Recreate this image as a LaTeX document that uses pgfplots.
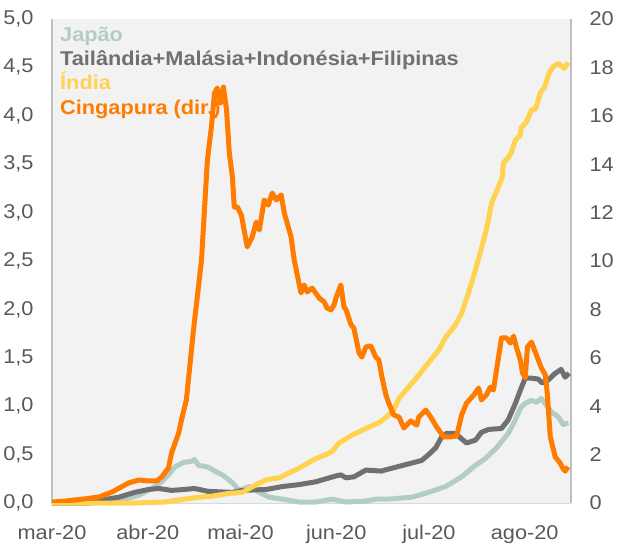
\documentclass[border=0pt]{standalone}
\usepackage{fontspec}
\setmainfont{Liberation Sans}[FakeStretch=1.09]
\usepackage{pgfplots}
\pgfplotsset{compat=1.18}
\definecolor{jap}{HTML}{B4CCC6}
\definecolor{tai}{HTML}{707070}
\definecolor{ind}{HTML}{FFD24F}
\definecolor{cin}{HTML}{FF7C00}
\definecolor{bg}{HTML}{F2F2F2}
\definecolor{axl}{HTML}{BFBFBF}
\definecolor{tk}{HTML}{595959}
\begin{document}
\begin{tikzpicture}[font=\fontsize{20}{23}\selectfont]
\path[use as bounding box] (-52bp,-41bp) rectangle (566bp,503bp);
\begin{axis}[
  at={(0,0)}, anchor=south west,
  scale only axis, width=519bp, height=484bp,
  xmin=0, xmax=168, ymin=0, ymax=5,
  axis background/.style={fill=bg},
  axis line style={draw=none},
  xtick pos=bottom, ytick pos=left,
  xtick={0,31,61,92,122,153},
  xticklabels={mar-20,abr-20,mai-20,jun-20,jul-20,ago-20},
  ytick={0,0.5,1,1.5,2,2.5,3,3.5,4,4.5,5},
  /pgf/number format/assume math mode=true,
  /pgf/number format/use comma,
  /pgf/number format/fixed,
  /pgf/number format/fixed zerofill,
  /pgf/number format/precision=1,
  tick label style={text=tk},
  yticklabel style={xshift=-15bp},
  xticklabel style={yshift=-19bp},
  major tick length=0pt,
  clip=false,
]
\draw[axl, line width=1.2pt] (rel axis cs:0,0) -- (rel axis cs:0,1);
\draw[axl, line width=1.2pt] (rel axis cs:1,0) -- (rel axis cs:1,1);
\draw[color=black!15, line width=1pt] (rel axis cs:0,0) -- (rel axis cs:1,0);
\addplot[jap, line width=5bp, line join=round] coordinates {
(0,0) (12.3,0) (16.1,0.03) (22.6,0.03) (28.1,0.08) (32.3,0.15) (35.5,0.22) (37.7,0.29) (39.7,0.37) (42.6,0.42) (45.2,0.43) (46.1,0.45) (47.4,0.39) (50.6,0.37) (53.2,0.32) (55.2,0.29) (58.4,0.21) (60.6,0.13) (63.9,0.17) (67.1,0.11) (70.3,0.06) (74.5,0.04) (80.0,0.01) (85.5,0.01) (90.6,0.04) (95.2,0.01) (101.6,0.02) (104.8,0.04) (109.0,0.04) (116.5,0.06) (121.9,0.11) (127.4,0.17) (132.6,0.27) (137.1,0.39) (140.3,0.46) (143.9,0.57) (147.7,0.72) (150.0,0.86) (151.6,0.98) (153.2,1.03) (155.2,1.06) (156.8,1.04) (158.4,1.08) (160.0,1.01) (161.6,0.94) (163.9,0.89) (165.5,0.81) (167.1,0.83)
};
\addplot[tai, line width=5bp, line join=round] coordinates {
(0,0) (11.9,0) (16.1,0.03) (21.6,0.06) (26.8,0.11) (31.3,0.14) (34.5,0.15) (38.7,0.13) (42.9,0.14) (46.1,0.15) (50.6,0.12) (58.4,0.11) (61.6,0.13) (69.4,0.14) (74.5,0.17) (80.0,0.19) (85.5,0.22) (88.7,0.25) (91.9,0.28) (93.5,0.29) (95.2,0.26) (97.7,0.27) (101.6,0.34) (106.5,0.33) (111.3,0.37) (116.1,0.41) (119.7,0.44) (121.9,0.50) (124.2,0.57) (126.1,0.68) (127.7,0.72) (130.6,0.72) (132.3,0.67) (134.2,0.62) (137.1,0.65) (139.0,0.73) (141.3,0.76) (145.5,0.77) (147.7,0.86) (150.0,1.03) (151.9,1.19) (153.2,1.29) (155.2,1.29) (157.4,1.28) (158.7,1.24) (160.6,1.27) (162.9,1.34) (164.8,1.38) (166.1,1.30) (167.4,1.34)
};
\addplot[ind, line width=5bp, line join=round] coordinates {
(0,0) (26.8,0) (36.5,0.01) (42.9,0.04) (47.7,0.06) (51.6,0.07) (57.4,0.10) (61.6,0.11) (66.1,0.19) (69.4,0.24) (73.5,0.26) (76.8,0.31) (80.0,0.36) (83.2,0.42) (85.5,0.46) (88.7,0.50) (90.6,0.53) (92.9,0.62) (97.1,0.70) (101.6,0.77) (105.8,0.83) (108.4,0.89) (110.6,0.96) (112.3,1.08) (115.5,1.20) (118.7,1.32) (121.9,1.45) (125.2,1.58) (127.4,1.71) (130.6,1.84) (132.6,1.96) (134.8,2.17) (137.1,2.41) (140.6,2.82) (142.3,3.10) (145.2,3.32) (145.8,3.37) (146.1,3.51) (147.7,3.57) (148.7,3.62) (150.0,3.75) (151.6,3.80) (151.9,3.88) (153.5,3.93) (155.2,4.06) (156.5,4.07) (158.1,4.24) (159.4,4.29) (161.0,4.45) (162.3,4.51) (163.9,4.54) (165.8,4.49) (167.1,4.55)
};
\end{axis}
\begin{axis}[
  at={(0,0)}, anchor=south west,
  scale only axis, width=519bp, height=484bp,
  xmin=0, xmax=168, ymin=0, ymax=20,
  axis line style={draw=none},
  xtick=\empty, ytick pos=right,
  ytick={0,2,4,6,8,10,12,14,16,18,20},
  /pgf/number format/assume math mode=true,
  tick label style={text=tk},
  yticklabel style={anchor=west, xshift=15bp},
  major tick length=0pt,
]
\addplot[cin, line width=5bp, line join=round] coordinates {
(0,0.04) (4.2,0.08) (10.6,0.17) (15.2,0.25) (19.4,0.45) (24.8,0.83) (28.1,0.95) (31.3,0.91) (33.9,0.91) (35.5,1.07) (37.7,1.45) (38.7,2.07) (41.0,2.89) (41.9,3.43) (43.5,4.26) (45.8,7.15) (48.4,10.04) (50.3,14.17) (51.6,15.54) (52.6,16.94) (53.5,17.15) (54.5,16.53) (55.5,17.19) (56.5,16.24) (57.4,14.46) (58.4,13.47) (59.0,12.23) (60.0,12.23) (61.3,11.9) (63.2,10.58) (64.8,10.99) (66.1,11.61) (67.1,11.28) (68.7,12.52) (70.0,12.31) (71.3,12.81) (72.6,12.52) (74.2,12.73) (75.2,11.98) (77.4,10.99) (78.4,10.04) (80.6,8.68) (81.6,9.01) (82.6,8.72) (84.2,8.88) (86.5,8.47) (88.1,8.31) (89.0,8.06) (90.3,7.98) (91.3,8.18) (91.9,8.47) (93.5,9.01) (94.5,8.10) (95.2,7.98) (96.8,7.36) (97.7,7.23) (99.4,6.20) (100.3,6.03) (101.6,6.45) (103.2,6.49) (104.8,6.03) (105.8,5.91) (106.8,5.21) (108.1,4.46) (109.0,4.13) (110.6,3.64) (112.3,3.55) (113.9,3.10) (116.1,3.39) (118.1,3.22) (118.7,3.55) (121.0,3.84) (122.6,3.55) (124.5,3.14) (126.8,2.73) (129.0,2.73) (131.0,2.77) (132.6,3.64) (134.2,4.13) (136.5,4.46) (138.1,4.75) (139.0,4.26) (140.6,4.46) (141.9,4.79) (142.9,4.67) (143.9,5.50) (145.5,6.82) (147.1,6.82) (148.4,6.61) (149.4,6.90) (150.3,6.45) (151.6,5.91) (152.3,5.37) (153.2,5.17) (153.9,6.45) (155.2,6.65) (156.8,6.12) (158.4,5.58) (159.7,5.29) (160.3,4.55) (161.3,2.73) (162.9,1.90) (164.5,1.65) (165.5,1.40) (166.1,1.32) (167.1,1.49)
};
\end{axis}
\begin{scope}[every node/.style={anchor=base west, inner sep=0pt, font=\bfseries\fontsize{20}{24}\selectfont}]
\node[text=jap] at (8bp,461bp) {Japão};
\node[text=tai] at (8bp,437bp) {Tailândia+Malásia+Indonésia+Filipinas};
\node[text=ind] at (8bp,413bp) {Índia};
\node[text=cin] at (8bp,388bp) {Cingapura (dir.)};
\end{scope}
\end{tikzpicture}
\end{document}
